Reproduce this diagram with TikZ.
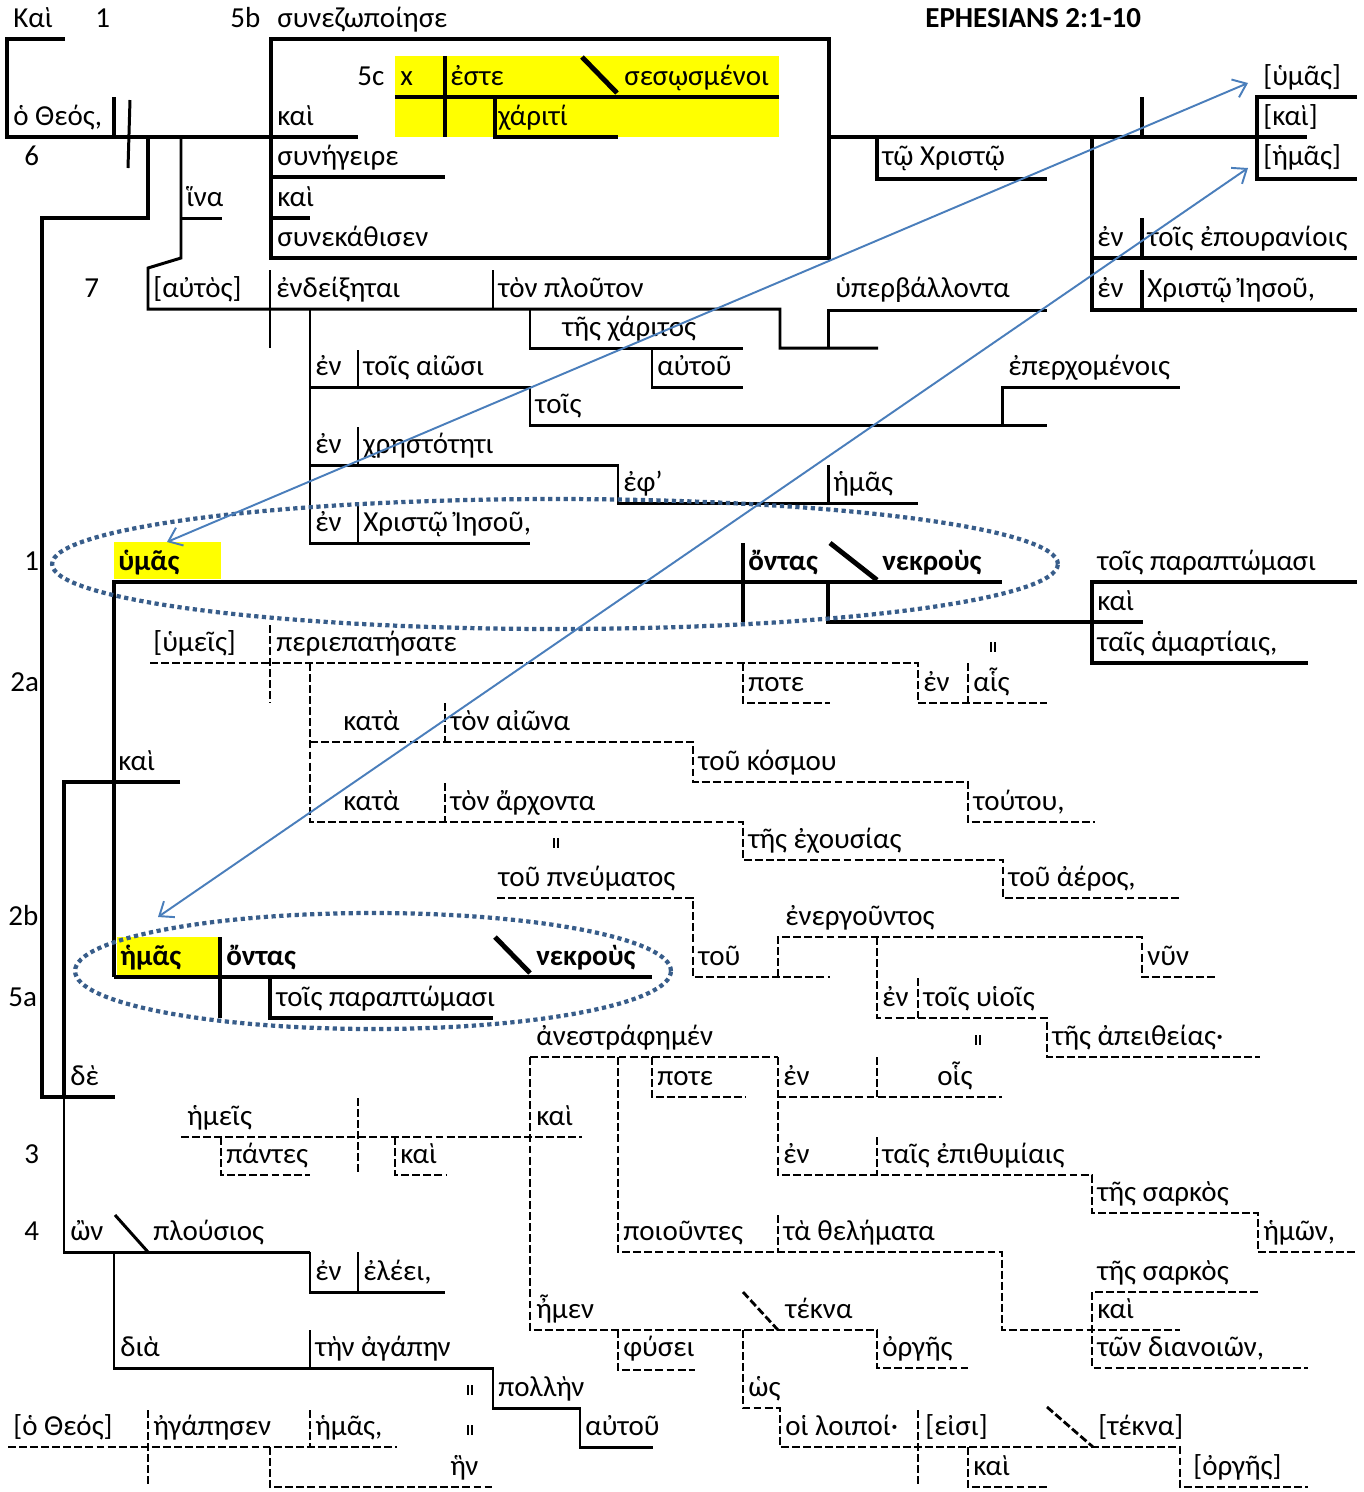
\documentclass[tikz,border=0pt]{standalone}
\usepackage{fontspec}
\setmainfont{Carlito}
\usetikzlibrary{arrows.meta}
\definecolor{azulelipse}{RGB}{56,93,138}
\definecolor{azulflecha}{RGB}{74,126,187}
\definecolor{resalte}{RGB}{255,255,0}
\newcommand{\igual}{\rule{0.8pt}{5.5pt}\hspace{1.6pt}\rule{0.8pt}{5.5pt}}

\begin{document}
\begin{tikzpicture}[x=0.02cm, y=-0.02cm,
    gruesa/.style={line width=2.8pt},
    fina/.style={line width=1.7pt},
    trazos/.style={line width=1.6pt, dash pattern=on 4.5pt off 1.8pt},
    pal/.style={anchor=base west, inner sep=0pt, font=\fontsize{16.5}{19}\selectfont},
    negrita/.style={pal, font=\fontsize{16.5}{19}\selectfont\bfseries},
    igualdad/.style={inner sep=0pt},
    punteada/.style={azulelipse, line width=2.4pt, dash pattern=on 2.4pt off 2pt},
    flechaazul/.style={azulflecha, line width=1.1pt, {Straight Barb[length=7pt,width=11pt]}-{Straight Barb[length=7pt,width=11pt]}}]

    \useasboundingbox[fill=white] (0,0) rectangle (1364,1492);

    % Fondos amarillos
    \fill[resalte] (395,56) rectangle (779,137);
    \fill[resalte] (114,542) rectangle (221,579);
    \fill[resalte] (117,937) rectangle (218,975);

    % Línea principal (versos 1, 4-7)
    \draw[gruesa] (65,39) -- (7,39) -- (7,137) -- (358,137);
    \draw[gruesa] (114,97) -- (114,137);
    \draw[fina] (130,100) -- (128,168);
    \draw[gruesa] (148,137) -- (148,218) -- (42,218) -- (42,1097) -- (115,1097);
    \draw[fina] (181,137) -- (181,258) -- (148,268) -- (148,309) -- (780,309) -- (780,348) -- (878,348);
    \draw[fina] (181,218) -- (222,218);

    % Caja del 5b
    \draw[gruesa] (271,258) -- (271,39) -- (829,39) -- (829,258) -- cycle;
    \draw[gruesa] (271,177) -- (445,177);
    \draw[gruesa] (271,218) -- (310,218);
    \draw[gruesa] (829,137) -- (1307,137);
    \draw[gruesa] (1142,97) -- (1142,137);
    \draw[gruesa] (1357,97) -- (1257,97) -- (1257,179) -- (1357,179);
    \draw[gruesa] (877,137) -- (877,179) -- (1047,179);
    \draw[gruesa] (1092,137) -- (1092,310) -- (1357,310);
    \draw[gruesa] (1092,258) -- (1357,258);
    \draw[gruesa] (1142,218) -- (1142,258);
    \draw[gruesa] (1142,270) -- (1142,310);

    % 5c (paréntesis amarillo)
    \draw[gruesa] (395,97) -- (779,97);
    \draw[gruesa] (445,56) -- (445,137);
    \draw[gruesa] (582,57) -- (617,93);
    \draw[gruesa] (495,97) -- (495,137) -- (618,137);

    % Verso 7
    \draw[fina] (270,270) -- (270,348);
    \draw[fina] (493,270) -- (493,309);
    \draw[fina] (530,309) -- (530,348) -- (743,348);
    \draw[fina] (652,348) -- (652,387) -- (743,387);
    \draw[fina] (828,348) -- (828,310) -- (1047,310);
    \draw[fina] (310,309) -- (310,543) -- (530,543);
    \draw[fina] (310,387) -- (530,387) -- (530,425) -- (1047,425);
    \draw[fina] (1002,425) -- (1002,387) -- (1180,387);
    \draw[fina] (358,350) -- (358,387);
    \draw[fina] (310,465) -- (618,465) -- (618,503) -- (918,503);
    \draw[fina] (358,427) -- (358,465);
    \draw[fina] (828,465) -- (828,503);
    \draw[fina] (358,505) -- (358,543);

    % Verso 1
    \draw[gruesa] (114,977) -- (114,582) -- (1002,582);
    \draw[gruesa] (743,543) -- (743,622);
    \draw[gruesa] (830,543) -- (877,580);
    \draw[gruesa] (828,582) -- (828,622) -- (1143,622);
    \draw[gruesa] (1357,582) -- (1092,582) -- (1092,663) -- (1308,663);

    % Verso 2a (trazos)
    \draw[trazos] (150,663) -- (918,663) -- (918,703) -- (1047,703);
    \draw[trazos] (968,663) -- (968,703);
    \draw[trazos] (270,625) -- (270,703);
    \draw[trazos] (743,663) -- (743,703) -- (830,703);
    \draw[trazos] (310,663) -- (310,822) -- (743,822) -- (743,860) -- (1003,860) -- (1003,898) -- (1180,898);
    \draw[trazos] (310,742) -- (693,742) -- (693,782) -- (968,782) -- (968,822) -- (1095,822);
    \draw[trazos] (445,703) -- (445,742);
    \draw[trazos] (445,783) -- (445,822);
    \draw[trazos] (497,898) -- (693,898) -- (693,977) -- (830,977);
    \draw[trazos] (778,977) -- (778,937) -- (1142,937) -- (1142,977) -- (1218,977);
    \draw[trazos] (877,937) -- (877,1018) -- (1047,1018) -- (1047,1057) -- (1260,1057);
    \draw[trazos] (918,978) -- (918,1018);

    % Versos 2b y 5a
    \draw[gruesa] (180,782) -- (64,782) -- (64,1097);
    \draw[gruesa] (114,977) -- (652,977);
    \draw[gruesa] (220,937) -- (220,1018);
    \draw[gruesa] (495,937) -- (530,973);
    \draw[gruesa] (270,977) -- (270,1018) -- (493,1018);

    % Verso 3 (trazos)
    \draw[trazos] (181,1137) -- (582,1137);
    \draw[trazos] (358,1098) -- (358,1175);
    \draw[trazos] (221,1137) -- (221,1175) -- (310,1175);
    \draw[trazos] (395,1137) -- (395,1175) -- (447,1175);
    \draw[trazos] (530,1057) -- (778,1057);
    \draw[trazos] (530,1057) -- (530,1330) -- (877,1330) -- (877,1368) -- (968,1368);
    \draw[trazos] (618,1057) -- (618,1252) -- (1002,1252) -- (1002,1330) -- (1180,1330);
    \draw[trazos] (778,1215) -- (778,1252);
    \draw[trazos] (652,1057) -- (652,1097) -- (745,1097);
    \draw[trazos] (778,1057) -- (778,1175) -- (1092,1175) -- (1092,1213) -- (1258,1213) -- (1258,1252) -- (1357,1252);
    \draw[trazos] (778,1097) -- (1002,1097);
    \draw[trazos] (877,1057) -- (877,1097);
    \draw[trazos] (877,1137) -- (877,1175);
    \draw[trazos] (1258,1292) -- (1092,1292) -- (1092,1368) -- (1308,1368);
    \draw[trazos] (743,1292) -- (778,1330);
    \draw[trazos] (618,1330) -- (618,1370) -- (695,1370);
    \draw[trazos] (743,1330) -- (743,1408) -- (780,1408) -- (780,1447) -- (1180,1447) -- (1180,1487) -- (1308,1487);
    \draw[trazos] (918,1410) -- (918,1487);
    \draw[trazos] (1047,1407) -- (1093,1447);
    \draw[trazos] (968,1447) -- (968,1487) -- (1047,1487);

    % Verso 4
    \draw[fina] (64,1097) -- (64,1252) -- (310,1252);
    \draw[fina] (115,1215) -- (148,1252);
    \draw[fina] (114,1252) -- (114,1368) -- (493,1368) -- (493,1408) -- (580,1408) -- (580,1447) -- (653,1447);
    \draw[fina] (310,1330) -- (310,1368);
    \draw[fina] (310,1252) -- (310,1292) -- (445,1292);
    \draw[fina] (358,1252) -- (358,1292);
    \draw[trazos] (8,1447) -- (397,1447);
    \draw[trazos] (148,1410) -- (148,1487);
    \draw[trazos] (310,1410) -- (310,1447);
    \draw[trazos] (270,1447) -- (270,1487) -- (493,1487);

    % Textos de arriba
    \node[pal] (kai0) at (13,27) {Καὶ};
    \node[pal] (v1) at (95,27) {1};
    \node[pal] (v5b) at (230,27) {5b};
    \node[pal] (synezo) at (277,27) {συνεζωποίησε};
    \node[negrita] (titulo) at (925,27) {EPHESIANS 2:1-10};
    \node[pal] (v5c) at (357,85) {5c};
    \node[pal] (xeq) at (400,85) {x};
    \node[pal] (este) at (450,85) {ἐστε};
    \node[pal] (sesosm) at (624,85) {σεσῳσμένοι};
    \node[pal] (umas0) at (1263,85) {[ὑμᾶς]};
    \node[pal] (theos) at (13,125) {ὁ Θεός,};
    \node[pal] (kai1) at (277,125) {καὶ};
    \node[pal] (chariti) at (498,125) {χάριτί};
    \node[pal] (kai2) at (1263,125) {[καὶ]};
    \node[pal] (v6) at (24,165) {6};
    \node[pal] (synegeire) at (277,165) {συνήγειρε};
    \node[pal] (christo) at (882,165) {τῷ Χριστῷ};
    \node[pal] (hemas0) at (1263,165) {[ἡμᾶς]};
    \node[pal] (hina) at (186,206) {ἵνα};
    \node[pal] (kai3) at (277,206) {καὶ};
    \node[pal] (synekath) at (277,246) {συνεκάθισεν};
    \node[pal] (en1) at (1097,246) {ἐν};
    \node[pal] (epouran) at (1147,246) {τοῖς ἐπουρανίοις};
    \node[pal] (v7) at (84,297) {7};
    \node[pal] (autos) at (153,297) {[αὐτὸς]};
    \node[pal] (endeix) at (276,297) {ἐνδείξηται};
    \node[pal] (plouton) at (498,297) {τὸν πλοῦτον};
    \node[pal] (hyperb) at (835,297) {ὑπερβάλλοντα};
    \node[pal] (en2) at (1097,297) {ἐν};
    \node[pal] (iesou1) at (1147,297) {Χριστῷ Ἰησοῦ,};
    \node[pal] (charitos) at (562,336) {τῆς χάριτος};
    \node[pal] (en3) at (315,375) {ἐν};
    \node[pal] (aiosi) at (363,375) {τοῖς αἰῶσι};
    \node[pal] (autou1) at (657,375) {αὐτοῦ};
    \node[pal] (eperch) at (1008,375) {ἐπερχομένοις};
    \node[pal] (tois1) at (535,413) {τοῖς};
    \node[pal] (en4) at (315,453) {ἐν};
    \node[pal] (chrest) at (363,453) {χρηστότητι};
    \node[pal] (eph) at (623,491) {ἐφ’};
    \node[pal] (hemas1) at (833,491) {ἡμᾶς};
    \node[pal] (en5) at (315,531) {ἐν};
    \node[pal] (iesou2) at (363,531) {Χριστῷ Ἰησοῦ,};

    % Textos de los versos 1-2
    \node[pal] (n1) at (24,570) {1};
    \node[negrita] (humas) at (118,570) {ὑμᾶς};
    \node[negrita] (ontas1) at (748,570) {ὄντας};
    \node[negrita] (nekrous1) at (882,570) {νεκροὺς};
    \node[pal] (parapt1) at (1097,570) {τοῖς παραπτώμασι};
    \node[pal] (kai4) at (1097,610) {καὶ};
    \node[pal] (humeis) at (153,651) {[ὑμεῖς]};
    \node[pal] (periep) at (276,651) {περιεπατήσατε};
    \node[pal] (hamart) at (1097,651) {ταῖς ἁμαρτίαις,};
    \node[pal] (v2a) at (10,691) {2a};
    \node[pal] (pote1) at (748,691) {ποτε};
    \node[pal] (en6) at (923,691) {ἐν};
    \node[pal] (hais) at (973,691) {αἷς};
    \node[pal] (kata1) at (343,730) {κατὰ};
    \node[pal] (aiona) at (450,730) {τὸν αἰῶνα};
    \node[pal] (kai5) at (118,770) {καὶ};
    \node[pal] (kosmou) at (698,770) {τοῦ κόσμου};
    \node[pal] (kata2) at (343,810) {κατὰ};
    \node[pal] (archonta) at (450,810) {τὸν ἄρχοντα};
    \node[pal] (toutou) at (973,810) {τούτου,};
    \node[pal] (exous) at (748,848) {τῆς ἐχουσίας};
    \node[pal] (pneum) at (498,886) {τοῦ πνεύματος};
    \node[pal] (aeros) at (1008,886) {τοῦ ἀέρος,};
    \node[pal] (v2b) at (8,925) {2b};
    \node[pal] (energ) at (785,925) {ἐνεργοῦντος};
    \node[negrita] (hemas2) at (120,965) {ἡμᾶς};
    \node[negrita] (ontas2) at (226,965) {ὄντας};
    \node[negrita] (nekrous2) at (536,965) {νεκροὺς};
    \node[pal] (tou1) at (698,965) {τοῦ};
    \node[pal] (nyn) at (1147,965) {νῦν};
    \node[pal] (v5a) at (8,1006) {5a};
    \node[pal] (parapt2) at (276,1006) {τοῖς παραπτώμασι};
    \node[pal] (en7) at (882,1006) {ἐν};
    \node[pal] (huiois) at (923,1006) {τοῖς υἱοῖς};
    \node[pal] (anestr) at (536,1045) {ἀνεστράφημέν};
    \node[pal] (apeith) at (1052,1045) {τῆς ἀπειθείας·};

    % Textos de los versos 3-5
    \node[pal] (de) at (70,1085) {δὲ};
    \node[pal] (pote2) at (657,1085) {ποτε};
    \node[pal] (en8) at (783,1085) {ἐν};
    \node[pal] (hois) at (937,1085) {οἷς};
    \node[pal] (hemeis) at (187,1125) {ἡμεῖς};
    \node[pal] (kai6) at (536,1125) {καὶ};
    \node[pal] (v3) at (24,1163) {3};
    \node[pal] (pantes) at (226,1163) {πάντες};
    \node[pal] (kai7) at (400,1163) {καὶ};
    \node[pal] (en9) at (783,1163) {ἐν};
    \node[pal] (epithym) at (882,1163) {ταῖς ἐπιθυμίαις};
    \node[pal] (sarkos1) at (1097,1201) {τῆς σαρκὸς};
    \node[pal] (v4) at (24,1240) {4};
    \node[pal] (on) at (70,1240) {ὢν};
    \node[pal] (plous) at (153,1240) {πλούσιος};
    \node[pal] (poiount) at (623,1240) {ποιοῦντες};
    \node[pal] (thelem) at (783,1240) {τὰ θελήματα};
    \node[pal] (hemon) at (1263,1240) {ἡμῶν,};
    \node[pal] (en10) at (315,1280) {ἐν};
    \node[pal] (eleei) at (363,1280) {ἐλέει,};
    \node[pal] (sarkos2) at (1097,1280) {τῆς σαρκὸς};
    \node[pal] (emen) at (536,1318) {ἦμεν};
    \node[pal] (tekna1) at (785,1318) {τέκνα};
    \node[pal] (kai8) at (1097,1318) {καὶ};
    \node[pal] (dia) at (120,1356) {διὰ};
    \node[pal] (agapen) at (315,1356) {τὴν ἀγάπην};
    \node[pal] (physei) at (623,1356) {φύσει};
    \node[pal] (orges1) at (882,1356) {ὀργῆς};
    \node[pal] (dianoi) at (1097,1356) {τῶν διανοιῶν,};
    \node[pal] (pollen) at (498,1396) {πολλὴν};
    \node[pal] (hos) at (748,1396) {ὡς};
    \node[pal] (theos2) at (13,1435) {[ὁ Θεός]};
    \node[pal] (egapesen) at (153,1435) {ἠγάπησεν};
    \node[pal] (hemas3) at (315,1435) {ἡμᾶς,};
    \node[pal] (autou2) at (585,1435) {αὐτοῦ};
    \node[pal] (loipoi) at (785,1435) {οἱ λοιποί·};
    \node[pal] (eisi) at (925,1435) {[εἰσι]};
    \node[pal] (tekna2) at (1098,1435) {[τέκνα]};
    \node[pal] (hen) at (450,1475) {ἣν};
    \node[pal] (kai9) at (973,1475) {καὶ};
    \node[pal] (orges2) at (1193,1475) {[ὀργῆς]};

    % Signos de igualdad
    \node[igualdad] (ig1) at (993,647) {\igual};
    \node[igualdad] (ig2) at (556,843) {\igual};
    \node[igualdad] (ig3) at (978,1040) {\igual};
    \node[igualdad] (ig4) at (470,1390) {\igual};
    \node[igualdad] (ig5) at (470,1430) {\igual};

    % Elipses punteadas
    \draw[punteada] (555,564) ellipse [x radius=10.06cm, y radius=1.3cm];
    \draw[punteada] (373,971) ellipse [x radius=5.96cm, y radius=1.16cm];

    % Flechas azules entre los pronombres
    \coordinate (umas-arriba) at (1248,83);
    \coordinate (umas-abajo) at (167,542);
    \coordinate (hemas-arriba) at (1248,168);
    \coordinate (hemas-abajo) at (158,917);
    \draw[flechaazul] (umas-arriba) -- (umas-abajo);
    \draw[flechaazul] (hemas-arriba) -- (hemas-abajo);

\end{tikzpicture}
\end{document}
